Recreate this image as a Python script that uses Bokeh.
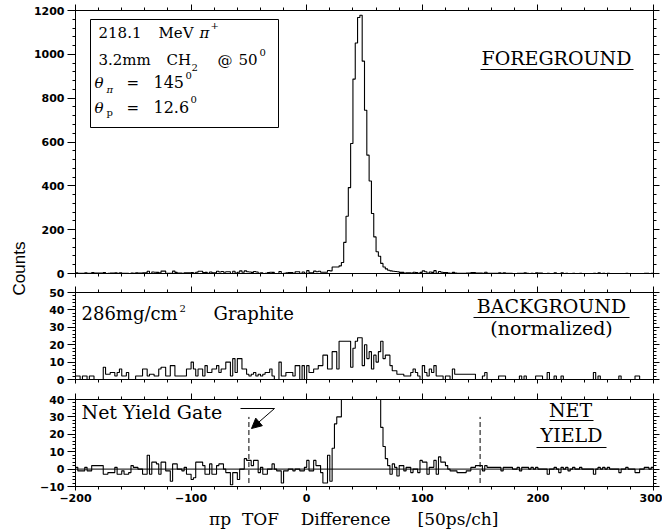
import math
from bokeh.plotting import figure
from bokeh.layouts import column, row
from bokeh.models import (Range1d, FixedTicker, LinearAxis, Label, BoxAnnotation,
                          Arrow, NormalHead, Span, ColumnDataSource)
from bokeh.embed import file_html
from bokeh.resources import INLINE

# ---------------- data (2-channel bins, left edges from -200 to 298) ----------------
X_MIN, X_MAX, BIN = -200, 300, 2
bin_left = list(range(X_MIN, X_MAX, BIN))

foreground = (
    [3, 1, 1, 1, 3, 1, 1, 4, 2, 2] +          # -200
    [2, 2, 4, 0, 1, 2, 2, 3, 1, 3] +          # -180
    [1, 1, 1, 0, 2, 1, 3, 2, 2, 3] +          # -160
    [3, 10, 0, 7, 6, 5, 3, 11, 11, 1] +       # -140
    [1, 1, 11, 5, 2, 2, 1, 3, 3, 3] +         # -120
    [4, 1, 6, 10, 10, 4, 5, 1, 7, 3] +        # -100
    [3, 10, 7, 9, 6, 8, 8, 0, 10, 2] +        # -80
    [6, 12, 6, 12, 8, 7, 5, 9, 7, 1] +        # -60
    [3, 0, 1, 4, 6, 5, 0, 0, 9, 0] +          # -40
    [1, 3, 4, 4, 1, 8, 8, 0, 7, 1] +          # -20
    [13, 3, 3, 11, 8, 10, 6, 6, 6, 14] +      # 0
    [12, 30, 30, 30, 35, 50, 142, 261, 392, 593] +      # 20
    [887, 1052, 1168, 1178, 969, 745, 540, 422, 274, 167] +  # 40
    [99, 79, 46, 30, 21, 15, 12, 10, 9, 8] +  # 60
    [5, 5, 2, 3, 3, 2, 6, 4, 1, 5] +          # 80
    [12, 8, 1, 7, 5, 13, 1, 9, 6, 4] +        # 100
    [4, 2, 1, 5, 2, 1, 1, 1, 1, 2] +          # 120
    [2, 4, 4, 2, 2, 2, 1, 6, 1, 1] +          # 140
    [1, 1, 1, 3, 1, 3, 1, 1, 1, 0] +          # 160
    [0, 1, 1, 1, 3, 1, 0, 1, 0, 3] +          # 180
    [2, 2, 0, 0, 1, 0, 0, 3, 0, 0] +          # 200
    [3, 0, 1, 0, 0, 1, 0, 0, 1, 0] +          # 220
    [0, 0, 0, 0, 1, 0, 3, 0, 1, 0] +          # 240
    [1, 0, 0, 0, 0, 0, 0, 0, 1, 0] +          # 260
    [0, 0, 0, 0, 0, 0, 1, 1, 0, 1]            # 280
)

background = (
    [2, 2, 0, 2, 2, 0, 2, 2, 0, 0] +
    [0, 0, 7, 3, 3, 4, 4, 2, 4, 6] +
    [2, 2, 4, 0, 0, 0, 2, 2, 2, 6] +
    [6, 2, 3, 3, 2, 2, 6, 7, 7, 2] +
    [2, 8, 8, 2, 2, 2, 2, 2, 6, 6] +
    [10, 6, 2, 6, 6, 2, 8, 4, 4, 6] +
    [6, 8, 4, 6, 6, 10, 10, 2, 12, 4] +
    [12, 12, 6, 6, 3, 2, 3, 4, 2, 3] +
    [2, 3, 4, 4, 6, 2, 0, 0, 10, 2] +
    [2, 4, 4, 4, 2, 8, 8, 0, 8, 0] +
    [8, 4, 4, 6, 6, 8, 8, 14, 14, 6] +
    [6, 16, 16, 6, 22, 22, 22, 22, 22, 7] +
    [18, 22, 24, 24, 8, 20, 12, 16, 6, 14] +
    [10, 16, 22, 12, 14, 14, 8, 5, 5, 3] +
    [3, 3, 2, 2, 2, 4, 6, 4, 2, 0] +
    [8, 4, 2, 6, 4, 8, 2, 2, 2, 0] +
    [2, 2, 0, 6, 3, 3, 3, 3, 3, 3] +
    [3, 3, 3, 0, 0, 0, 2, 4, 0, 0] +
    [0, 0, 0, 2, 2, 2, 0, 0, 0, 0] +
    [0, 0, 2, 0, 2, 0, 0, 0, 0, 2] +
    [2, 2, 0, 0, 4, 0, 0, 2, 0, 0] +
    [2, 0, 0, 0, 0, 0, 0, 0, 0, 0] +
    [0, 0, 0, 0, 4, 0, 2, 0, 0, 0] +
    [0, 0, 0, 0, 0, 2, 0, 0, 0, 0] +
    [0, 0, 2, 2, 0, 0, 0, 0, 0, 0]
)

net_yield = (
    [1, -1, -1, -1, 1, -1, -1, 2, 2, 2] +
    [2, 2, -3, -3, -2, -2, -2, 1, -3, -3] +
    [-1, -3, -3, -2, 2, 1, 1, 0, 0, -3] +
    [-3, 8, -3, 4, 4, 3, -3, 4, 4, -1] +
    [-1, -7, 3, 3, 0, 0, -1, 1, -3, -3] +
    [-6, -5, 4, 4, 4, 2, -3, -3, 3, -3] +
    [-3, 2, 3, 3, 0, -2, -2, -9, -2, -2] +
    [-6, 0, 0, 6, 5, 5, 2, 5, 5, -2] +
    [1, -3, -3, 0, 0, 3, 0, -1, -1, -8] +
    [-1, -1, 0, 0, -1, 0, 0, -1, -1, 1] +
    [5, -1, -1, 5, 2, 2, -2, -8, -8, 8] +
    [-7, 12, 26, 30, 30, 45, 120, 240, 370, 570] +
    [870, 1030, 1145, 1165, 950, 730, 520, 405, 260, 150] +
    [85, 60, 24, 13, 6, 2, -3, 3, 1, -4] +
    [2, 2, -1, 1, 1, -2, 0, 0, -2, 5] +
    [4, 4, -3, 1, 1, 5, -3, 7, 4, 4] +
    [2, 0, -1, -1, -1, -2, -2, -2, -2, -1] +
    [-1, 1, 1, 2, 2, 2, -1, 2, 1, 1] +
    [1, 1, 1, 1, -1, 1, 1, 1, 1, 0] +
    [0, 1, -1, 1, 1, 1, 0, 1, 0, 1] +
    [0, 0, 0, 0, -3, 0, 0, 1, 0, -2] +
    [1, 0, 1, -1, 0, 1, 0, 0, 1, 0] +
    [0, 0, 0, 0, -3, 0, 1, 0, 1, 0] +
    [1, 0, 0, 0, 0, -2, 0, 0, 1, 0] +
    [0, 0, -2, -2, 0, 0, 1, 1, 0, 1]
)

gate_positions = [-50, 150]
gate_low, gate_high = -8, 30

x_major = [-200, -100, 0, 100, 200, 300]
x_minor = list(range(-200, 301, 20))
x_label_over = {-200: "\u2212200", -100: "\u2212100"}
fg_major = [0, 200, 400, 600, 800, 1000, 1200]
fg_minor = list(range(0, 1201, 40))
bg_major = [0, 10, 20, 30, 40, 50]
bg_minor = list(range(0, 51, 2))
net_major = [-10, 0, 10, 20, 30, 40]
net_minor = list(range(-10, 41, 2))
net_label_over = {-10: "\u221210"}

# ---------------- styling / layout ----------------
SERIF = "DejaVu Serif"
TICKFONT = "DejaVu Sans"
FRAME_W = 578
LEFT, RIGHT = 44, 10
NB = "\u00a0"
shared_x = Range1d(X_MIN, X_MAX)


def style_axis(ax, ticks, minor, show_labels, tick_out, overrides=None):
    ax.ticker = FixedTicker(ticks=ticks, minor_ticks=minor)
    ax.axis_line_color = "black"
    ax.major_tick_line_color = "black"
    ax.minor_tick_line_color = "black"
    ax.major_tick_in = 0
    ax.major_tick_out = tick_out
    ax.minor_tick_in = 0
    ax.minor_tick_out = 3
    ax.major_label_text_font = TICKFONT
    ax.major_label_text_font_style = "bold"
    ax.major_label_text_font_size = "11px"
    if show_labels:
        ax.major_label_text_color = "black"
        ax.major_label_standoff = 3
        if overrides:
            ax.major_label_overrides = overrides
    else:
        ax.major_label_text_color = None
        ax.major_label_standoff = 0


def make_panel(frame_h, yr, yticks, yminor, btop, bbottom, show_x, y_over=None):
    p = figure(frame_width=FRAME_W, frame_height=frame_h, x_range=shared_x,
               y_range=Range1d(*yr), min_border_left=LEFT, min_border_right=RIGHT,
               min_border_top=btop, min_border_bottom=bbottom,
               output_backend="svg", toolbar_location=None,
               background_fill_color="white", border_fill_color="white",
               outline_line_color="black")
    p.xgrid.visible = False
    p.ygrid.visible = False
    p.add_layout(LinearAxis(), "above")
    p.add_layout(LinearAxis(), "right")
    style_axis(p.below[0], x_major, x_minor, show_x, 4, x_label_over)
    style_axis(p.above[0], x_major, x_minor, False, 6)
    style_axis(p.left[0], yticks, yminor, True, 8, y_over)
    style_axis(p.right[0], yticks, yminor, False, 6)
    return p


def hist(p, values):
    src = ColumnDataSource(dict(x=bin_left + [X_MAX], y=values + [values[-1]]))
    p.step("x", "y", source=src, mode="after", line_color="black", line_width=1.1)


def seg(p, x0, y0, x1, y1, dash="solid", head=None):
    p.add_layout(Arrow(x_start=x0, y_start=y0, x_end=x1, y_end=y1, end=head,
                       line_color="black", line_width=1, line_dash=dash))


# reference-pixel -> data helpers for annotation placement
def px_x(px):
    return X_MIN + (px - 74) * (X_MAX - X_MIN) / FRAME_W


def top_y(py):
    return (273 - py) * 1200 / 263


def mid_y(py):
    return (379 - py) * 50 / 87


def bot_y(py):
    return -10 + (486 - py) * 50 / 87


BASE_FIX = 0.4   # rendered alphabetic baseline sits ~0.4em below the anchor


def txt(p, yconv, xpx, basepx, s, size, align="left", style="normal", font=SERIF):
    y = yconv(basepx - BASE_FIX * size)
    p.add_layout(Label(x=px_x(xpx), y=y, text=s, text_font=font,
                       text_font_size=f"{size}px", text_align=align,
                       text_baseline="alphabetic", text_font_style=style,
                       text_color="black"))


# ---- top panel: foreground ----
p1 = make_panel(263, (0, 1200), fg_major, fg_minor, 10, 9, False)
hist(p1, foreground)
p1.add_layout(BoxAnnotation(left=px_x(89), right=px_x(277), bottom=top_y(127), top=top_y(19),
                            fill_alpha=0, line_color="black", line_alpha=1, line_width=1))
for s, x, y, sz, st in [
    ("218.1", 97, 38, 15, "normal"), ("MeV", 157, 38, 15, "normal"),
    ("\u03c0", 198, 38, 15, "italic"), ("+", 209, 29, 10, "normal"),
    ("3.2mm", 97, 65, 15, "normal"), ("CH", 165, 65, 15, "normal"),
    ("2", 190, 71, 10, "normal"), ("@", 216, 65, 15, "normal"),
    ("50", 237, 65, 15, "normal"), ("0", 258, 56, 10, "normal"),
    ("\u03b8", 93, 88, 15, "italic"), ("\u03c0", 105, 93, 10, "italic"),
    ("=", 125, 88, 15, "normal"), ("145", 152, 88, 16, "normal"),
    ("0", 184, 79, 10, "normal"),
    ("\u03b8", 93, 113, 15, "italic"), ("p", 105, 116, 10, "normal"),
    ("=", 125, 113, 15, "normal"), ("12.6", 152, 113, 16, "normal"),
    ("0", 189, 103, 10, "normal"),
]:
    txt(p1, top_y, x, y, s, sz, style=st)
txt(p1, top_y, 480, 65, "FOREGROUND", 19)
seg(p1, px_x(479), top_y(69), px_x(632), top_y(69))

# ---- middle panel: background ----
p2 = make_panel(87, (0, 50), bg_major, bg_minor, 10, 10, False)
hist(p2, background)
txt(p2, mid_y, 80, 320, "286mg/cm", 18)
txt(p2, mid_y, 178, 312, "2", 10)
txt(p2, mid_y, 212, 320, "Graphite", 18)
txt(p2, mid_y, 550, 313, "BACKGROUND", 19, align="center")
seg(p2, px_x(472), mid_y(317), px_x(628), mid_y(317))
txt(p2, mid_y, 550, 335, "(normalized)", 19, align="center")

# ---- bottom panel: net yield ----
p3 = make_panel(87, (-10, 40), net_major, net_minor, 10, 45, True, net_label_over)
p3.add_layout(Span(location=0, dimension="width", line_color="black", line_width=1))
hist(p3, net_yield)
for g in gate_positions:
    seg(p3, g, gate_low, g, gate_high, dash="5 3")
txt(p3, bot_y, 80, 419, "Net Yield Gate", 19)
seg(p3, px_x(239), bot_y(408), px_x(273), bot_y(408))
seg(p3, px_x(273), bot_y(408), px_x(250), bot_y(428),
    head=NormalHead(size=10, fill_color="black", line_color="black"))
txt(p3, bot_y, 569, 417, "NET", 19, align="center")
seg(p3, px_x(548), bot_y(420), px_x(592), bot_y(420))
txt(p3, bot_y, 570, 442, "YIELD", 19, align="center")
seg(p3, px_x(535), bot_y(447), px_x(605), bot_y(447))
xa = p3.below[0]
xa.axis_label = ("\u03c0p" + NB * 2 + "TOF" + NB * 4 + "Difference" + NB * 5 +
                 "[50ps/ch]" + NB * 4)
xa.axis_label_text_font = SERIF
xa.axis_label_text_font_style = "normal"
xa.axis_label_text_font_size = "17px"
xa.axis_label_text_color = "black"
xa.axis_label_standoff = 4

# ---- "Counts" label strip ----
pl = figure(width=30, height=531, x_range=Range1d(0, 30), y_range=Range1d(0, 531),
            min_border=0, x_axis_location=None, y_axis_location=None,
            output_backend="svg", toolbar_location=None, outline_line_color=None,
            background_fill_color="white", border_fill_color="white")
pl.grid.visible = False
pl.add_layout(Label(x=19, y=531 - 268, text="Counts", angle=math.pi / 2,
                    text_font="Liberation Sans", text_font_size="17px",
                    text_align="center", text_baseline="middle", text_color="black"))

layout = row(pl, column(p1, p2, p3))
open("out.html", "w").write(file_html(layout, INLINE))
